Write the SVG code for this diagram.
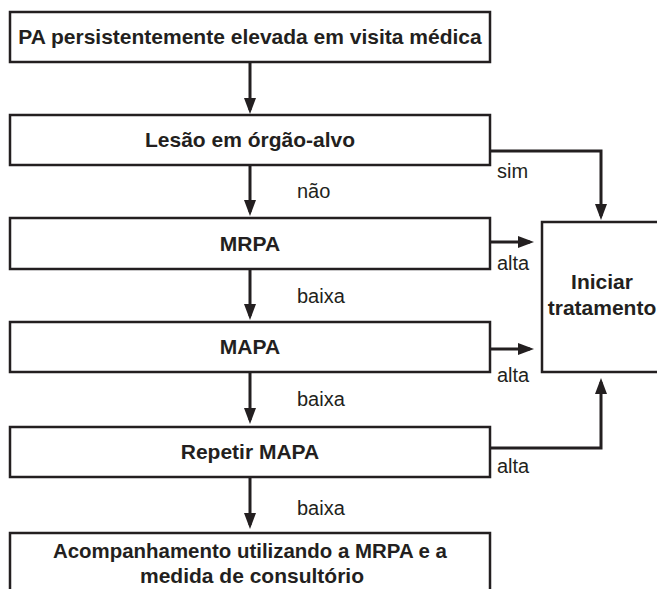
<svg xmlns="http://www.w3.org/2000/svg" width="657" height="589" viewBox="0 0 657 589">
<defs>
<marker id="ah" markerUnits="userSpaceOnUse" markerWidth="18" markerHeight="12" refX="12" refY="6" orient="auto">
<path d="M0,0 L16,6 L0,12 z" fill="#231f20"/>
</marker>
<style>
.box{fill:#fff;stroke:#231f20;stroke-width:2.5}
.t{font-family:"Liberation Sans",Arial,sans-serif;font-weight:bold;font-size:21px;fill:#231f20;text-anchor:middle}
.l{font-family:"Liberation Sans",Arial,sans-serif;font-size:20px;fill:#231f20}
.c{fill:none;stroke:#231f20;stroke-width:3;marker-end:url(#ah)}
</style>
</defs>
<rect width="657" height="589" fill="#fff"/>
<g id="connectors">
<path class="c" d="M250,62 V110"/>
<path class="c" d="M490,151 H601 V216"/>
<path class="c" d="M250,165 V212"/>
<path class="c" d="M490,242 H530"/>
<path class="c" d="M250,269 V316"/>
<path class="c" d="M490,349 H530"/>
<path class="c" d="M250,372 V420"/>
<path class="c" d="M490,448 H601 V382"/>
<path class="c" d="M250,477 V525"/>
</g>
<g id="labels">
<text class="l" x="497" y="178">sim</text>
<text class="l" x="297" y="198">não</text>
<text class="l" x="497" y="270">alta</text>
<text class="l" x="297" y="303">baixa</text>
<text class="l" x="497" y="382">alta</text>
<text class="l" x="297" y="406">baixa</text>
<text class="l" x="497" y="473">alta</text>
<text class="l" x="297" y="515">baixa</text>
</g>
<g id="n1">
<rect class="box" x="10" y="12" width="480" height="50"/>
<text class="t" x="250" y="44">PA persistentemente elevada em visita médica</text>
</g>
<g id="n2">
<rect class="box" x="10" y="115" width="480" height="50"/>
<text class="t" x="250" y="147">Lesão em órgão-alvo</text>
</g>
<g id="n3">
<rect class="box" x="10" y="218" width="480" height="51"/>
<text class="t" x="250" y="251">MRPA</text>
</g>
<g id="n4">
<rect class="box" x="10" y="322" width="480" height="50"/>
<text class="t" x="250" y="354">MAPA</text>
</g>
<g id="n5">
<rect class="box" x="10" y="427" width="480" height="50"/>
<text class="t" x="250" y="459">Repetir MAPA</text>
</g>
<g id="n6">
<rect class="box" x="10" y="533" width="480" height="80"/>
<text class="t" x="250" y="558" textLength="394" lengthAdjust="spacingAndGlyphs">Acompanhamento utilizando a MRPA e a</text>
<text class="t" x="252" y="583">medida de consultório</text>
</g>
<g id="n7">
<rect class="box" x="542" y="222" width="130" height="150"/>
<text class="t" x="602" y="289">Iniciar</text>
<text class="t" x="602" y="315">tratamento</text>
</g>
</svg>
